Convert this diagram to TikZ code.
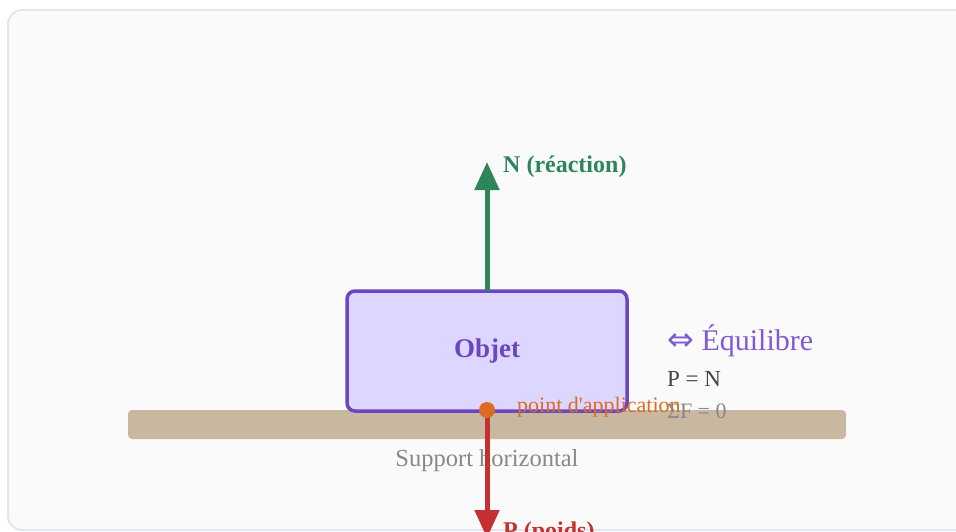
\documentclass[tikz,border=0pt]{standalone}
\usepackage{fontspec}
\setmainfont{Liberation Serif}
\newfontfamily\symfont{DejaVu Sans}
\usetikzlibrary{arrows.meta}
\definecolor{panelfill}{HTML}{FAFAFA}
\definecolor{paneldraw}{HTML}{E2E6EF}
\definecolor{tan}{HTML}{C8B8A0}
\definecolor{boxfill}{HTML}{DDD6FE}
\definecolor{boxdraw}{HTML}{6B46C1}
\definecolor{eqpurple}{HTML}{805AD5}
\definecolor{ngreen}{HTML}{2F855A}
\definecolor{pred}{HTML}{C53030}
\definecolor{porange}{HTML}{DD6B20}
\definecolor{lgrey}{HTML}{888888}
\definecolor{dgrey}{HTML}{444444}
\newcommand{\fs}[1]{\fontsize{#1}{#1}\selectfont}
\tikzset{
  panel/.style={draw=paneldraw, line width=2pt, fill=panelfill, rounded corners=14pt},
  supportbar/.style={fill=tan, draw=none, rounded corners=4pt, minimum width=718pt, minimum height=29pt, inner sep=0pt},
  objbox/.style={fill=boxfill, draw=boxdraw, line width=3.5pt, rounded corners=8pt, minimum width=280pt, minimum height=120pt, inner sep=0pt, outer sep=0pt, text=boxdraw, font=\fs{27}\bfseries},
  txt/.style={inner sep=0pt, anchor=west},
  forcearrow/.style={line width=5pt, -{Triangle[width=24pt,length=28pt]}},
  appdot/.style={circle, fill=porange, minimum size=16pt, inner sep=0pt},
}
\begin{document}
\begin{tikzpicture}[x=1pt,y=-1pt]
\useasboundingbox (0,0) rectangle (956,532);
\clip (0,0) rectangle (956,532);
\draw[panel] (8,10) rectangle (980,530);
\node[supportbar] (sup) at (487,424.5) {};
\node[inner sep=0pt, text=lgrey, font=\fs{24.5}] (suplbl) at (487,461) {Support horizontal};
\coordinate (app) at (487,410);
\coordinate (ntip) at (487,162);
\coordinate (ptip) at (487,538);
\draw[forcearrow, pred] (app) -- (ptip);
\node[objbox] (obj) at (487,351) {Objet};
\draw[forcearrow, ngreen] (obj.north) -- (ntip);
\node[appdot] (pt) at (app) {};
\node[txt, text=ngreen, font=\fs{24}\bfseries] (nlbl) at (503,167) {N (réaction)};
\node[txt, text=pred, font=\fs{24}\bfseries] (plbl) at (503,533) {P (poids)};
\node[txt, text=porange, font=\fs{22}] (applbl) at (517,407) {point d\textquotesingle application};
\node[txt, text=eqpurple, font=\fs{30}] (eq) at (667,341) {{\symfont\fs{32}⇔} Équilibre};
\node[txt, text=dgrey, font=\fs{23}] (pn) at (667,379) {P = N};
\node[txt, text=lgrey, font=\fs{22}] (sf) at (667,411) {ΣF = 0};
\end{tikzpicture}
\end{document}
